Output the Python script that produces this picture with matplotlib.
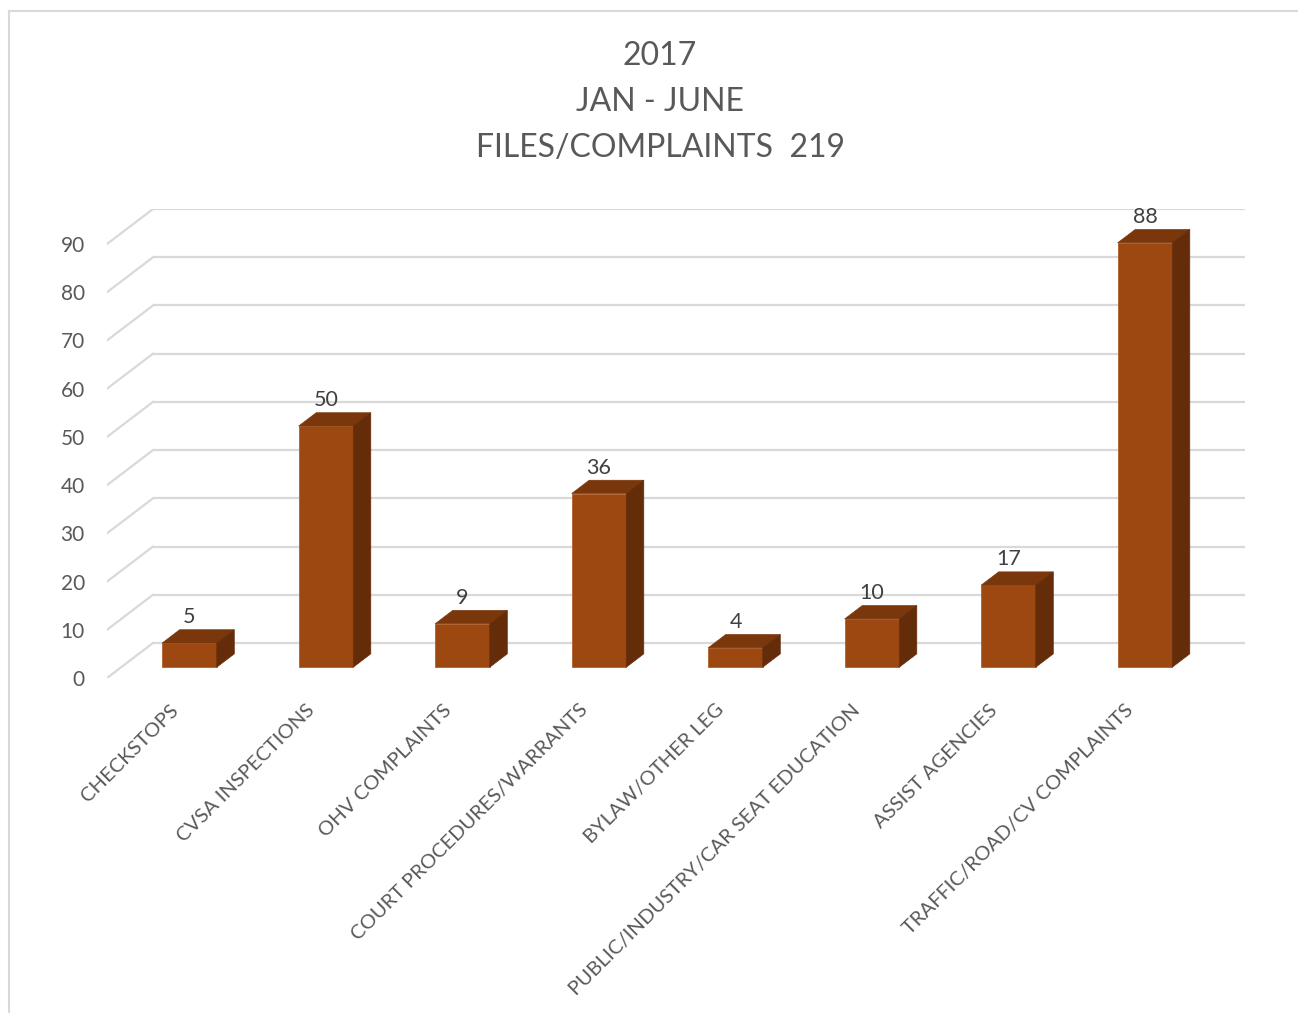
import matplotlib.pyplot as plt
from matplotlib.patches import Polygon
from matplotlib.lines import Line2D

plt.rcParams['font.family'] = ['Lato', 'DejaVu Sans']

categories = ["CHECKSTOPS", "CVSA INSPECTIONS", "OHV COMPLAINTS",
              "COURT PROCEDURES/WARRANTS", "BYLAW/OTHER LEG",
              "PUBLIC/INDUSTRY/CAR SEAT EDUCATION", "ASSIST AGENCIES",
              "TRAFFIC/ROAD/CV COMPLAINTS"]
counts = [5, 50, 9, 36, 4, 10, 17, 88]
y_ticks = list(range(0, 100, 10))
title_lines = ["2017", "JAN - JUNE", "FILES/COMPLAINTS  219"]

# oblique "3D" look: full floor depth expressed in data units
DX = 0.337   # shift along x (category units)
DY = 7.26    # shift along y (value units)
D0, D1 = 0.31, 0.69   # bar front / back depth fractions
W = 0.4

front_c = "#9e4811"
top_c = "#7a370c"
side_c = "#652c09"
grid_c = "#d9d9d9"
text_c = "#595959"

fig = plt.figure(figsize=(12.98, 10.13), dpi=100)
ax = fig.add_axes([107 / 1298, 1 - 678 / 1013, 1138 / 1298, 469 / 1013])
ax.set_xlim(-0.5, len(categories) - 0.5 + DX)
ax.set_ylim(0, y_ticks[-1] + DY)

# back wall gridlines and the left-side floor/wall lines
for v in y_ticks:
    ax.plot([-0.5 + DX, len(categories) - 0.5 + DX], [v + DY, v + DY],
            color=grid_c, lw=1.6, zorder=1, solid_capstyle='butt')
    ax.plot([-0.5, -0.5 + DX], [v, v + DY], color=grid_c, lw=1.6, zorder=1)

# bars: front face via bar(), top and side faces as polygons
xs = [i + D0 * DX for i in range(len(categories))]
ax.bar(xs, counts, width=W, bottom=D0 * DY, color=front_c,
       edgecolor="#b0602c", linewidth=0.6, zorder=3)
dd = (D1 - D0)
for x, v in zip(xs, counts):
    y0 = D0 * DY
    top = y0 + v
    l, r = x - W / 2, x + W / 2
    ax.add_patch(Polygon([(l, top), (r, top), (r + dd * DX, top + dd * DY),
                          (l + dd * DX, top + dd * DY)],
                         closed=True, facecolor=top_c, edgecolor=top_c,
                         lw=0.5, zorder=3))
    ax.add_patch(Polygon([(r, y0), (r, top), (r + dd * DX, top + dd * DY),
                          (r + dd * DX, y0 + dd * DY)],
                         closed=True, facecolor=side_c, edgecolor=side_c,
                         lw=0.5, zorder=3))
    ax.text(x, top + dd * DY + 0.5, str(v), ha='center', va='bottom',
            fontsize=15.5, color="#404040", zorder=4)

ax.set_yticks(y_ticks)
ax.set_yticklabels([str(t) for t in y_ticks])
ax.set_xticks(range(len(categories)))
ax.set_xticklabels(categories, rotation=45, ha='right', va='center',
                   rotation_mode='anchor')
ax.tick_params(axis='y', length=0, pad=16, labelsize=15, labelcolor=text_c)
ax.tick_params(axis='x', length=0, pad=21, labelsize=14.5, labelcolor=text_c)
for s in ax.spines.values():
    s.set_visible(False)

for k, line in enumerate(title_lines):
    fig.text(660 / 1298, 1 - (56 + 46 * k) / 1013, line, ha='center',
             va='center', fontsize=23, color=text_c)

# chart frame
fig.add_artist(Line2D([8.5 / 1298, 8.5 / 1298], [0, 1 - 11 / 1013],
                      color=grid_c, lw=1.5, transform=fig.transFigure))
fig.add_artist(Line2D([8.5 / 1298, 1], [1 - 11 / 1013, 1 - 11 / 1013],
                      color=grid_c, lw=1.5, transform=fig.transFigure))

fig.savefig("out.png", dpi=100)
